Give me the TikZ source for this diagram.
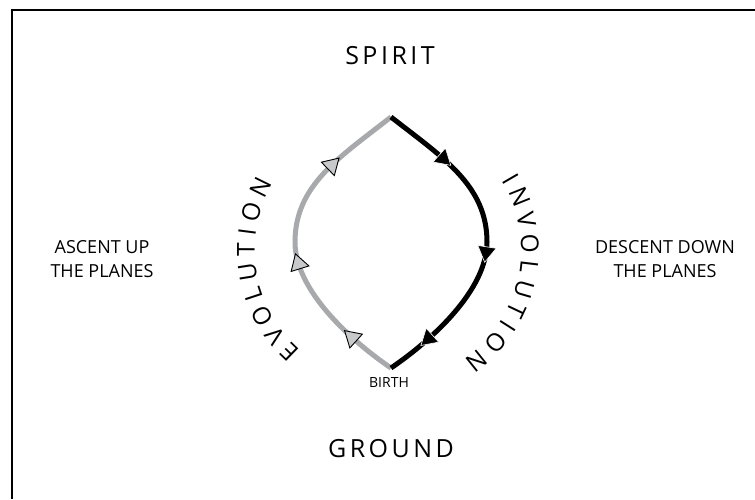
\documentclass[tikz,border=0pt]{standalone}
\usepackage{fontspec}
\setmainfont{Open Sans}
\newfontfamily\trackfont[LetterSpace=14]{Open Sans}
\usetikzlibrary{shapes.geometric,calc}
\definecolor{lensgray}{HTML}{A7A9AC}
\definecolor{tipgray}{HTML}{C8C9CB}
\begin{document}
\begin{tikzpicture}[x=1pt,y=-1pt,
  frame/.style={line width=2pt,black},
  bigtitle/.style={font=\trackfont\fontsize{25}{30}\selectfont},
  sidelabel/.style={align=center,font=\fontsize{18}{24}\selectfont,inner sep=0pt},
  smalllabel/.style={font=\fontsize{14}{16}\selectfont,inner sep=0pt},
  arcletter/.style={font=\fontsize{24.5}{28}\selectfont,inner sep=0pt,anchor=center},
  grayline/.style={draw=lensgray,line width=5pt},
  blackline/.style={draw=black,line width=5pt},
  tri/.style={isosceles triangle,isosceles triangle apex angle=62,inner sep=0pt,
    minimum size=15.5pt,sloped,allow upside down,anchor=center},
  uptri/.style={tri,fill=tipgray,draw=black,line width=0.9pt},
  downtri/.style={tri,fill=black,draw=white,line width=0.6pt}]
\useasboundingbox (0,0) rectangle (755,499);
\fill[white] (0,0) rectangle (755,499);
\draw[frame] (12,499) -- (12,10) -- (755,10);

\node[bigtitle] (spirit) at (390,56) {SPIRIT};
\node[bigtitle] (ground) at (391,449) {GROUND};
\node[smalllabel] (birth) at (389,382) {BIRTH};
\node[sidelabel] (ascent) at (102,259) {ASCENT UP\\THE PLANES};
\node[sidelabel] (descent) at (665,259) {DESCENT DOWN\\THE PLANES};

\coordinate (top) at (391,117);
\coordinate (bot) at (391,368);
\coordinate (lft) at (295,242);
\coordinate (rgt) at (487,242);
\coordinate (cen) at (388,250);

\draw[grayline] (bot) .. controls (350,340) and (295,290) .. (lft)
   node[uptri,pos=0.3] (ga3) {} node[uptri,pos=0.85] (ga2) {}
   .. controls (295,185) and (340,157) .. (top)
   node[uptri,pos=0.57] (ga1) {};
\draw[blackline] (top) .. controls (442,157) and (487,185) .. (rgt)
   node[downtri,pos=0.37] (ba1) {}
   .. controls (487,290) and (432,340) .. (bot)
   node[downtri,pos=0.07] (ba2) {} node[downtri,pos=0.71] (ba3) {};

\foreach \ch/\ang [count=\i] in {E/225.84,V/217.33,O/207.69,L/198.21,U/188.97,
    T/179.73,I/172.59,O/164.24,N/153.67} {
  \node[arcletter,rotate=\ang-90] (evo\i) at ($(cen)+(\ang:142pt)$) {\ch};
}
\foreach \ch/\ang [count=\i] in {I/30.05,N/21.82,V/12.30,O/2.66,L/-6.82,
    U/-16.06,T/-25.30,I/-32.44,O/-40.79,N/-51.36} {
  \node[arcletter,rotate=\ang-90] (inv\i) at ($(cen)+(\ang:142pt)$) {\ch};
}
\end{tikzpicture}
\end{document}
